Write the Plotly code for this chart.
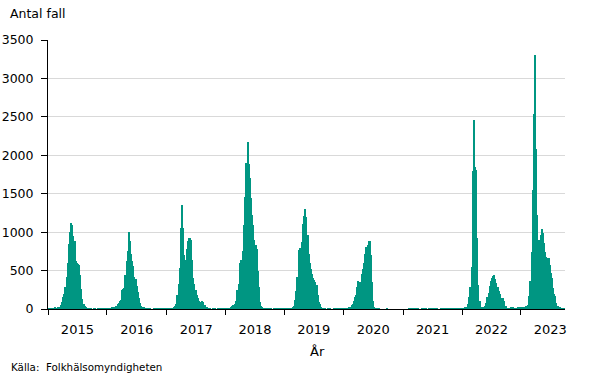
import plotly.graph_objects as go

# Weekly case counts per season (week 40 -> week 39)
season_labels = ["2015", "2016", "2017", "2018", "2019", "2020", "2021", "2022", "2023"]

s2015 = [10, 12, 8, 10, 12, 10, 14, 12, 15,
         20, 30, 50, 90, 150, 200, 280, 420, 600, 850, 1000, 1120, 1090, 950, 880, 620,
         600, 590, 570, 440, 265, 135, 70, 35, 20,
         12, 10, 8, 10, 6, 0, 5, 8, 0, 0, 6, 5, 8, 10, 12, 8, 10, 12]
s2016 = [10, 12, 10, 12, 14, 15,
         18, 25, 40, 60, 80, 100, 120, 250, 265, 270, 440, 620, 760, 1000, 880, 720, 620,
         560, 420, 390, 300, 220, 140, 80, 40, 25, 15,
         10, 8, 10, 8, 6, 8, 0, 0, 5, 8, 10, 8, 0, 5, 8, 6, 8, 10, 12, 10]
s2017 = [10, 10, 8, 10, 12, 10,
         20, 40, 70, 180, 330, 540, 1050, 1350, 1050, 700, 640, 780, 880, 920, 930, 900,
         640, 400, 330, 250, 180, 140, 110, 90, 85, 100, 90, 50, 25, 15,
         10, 8, 6, 0, 8, 10, 5, 0, 0, 6, 8, 10, 8, 10, 12, 10]
s2018 = [10, 10, 12, 10,
         20, 40, 50, 50, 60, 110, 250, 330, 600, 640, 620, 760, 1090, 1460, 1900, 2170,
         1890, 1700, 1450, 1220, 1090, 900, 830, 780, 500, 280, 90, 35, 15,
         10, 8, 10, 6, 0, 8, 5, 6, 0, 8, 10, 6, 8, 0, 10, 8, 10, 12, 10]
s2019 = [10, 8, 10, 12, 10, 8, 12, 15,
         45, 120, 230, 420, 770, 800, 680, 870, 1110, 1210, 1300, 1200, 960, 720, 600, 520,
         460, 400, 375, 350, 310, 180, 90, 70, 26, 12,
         8, 6, 0, 0, 5, 0, 10, 0, 0, 6, 0, 5, 8, 6, 8, 10, 8, 10]
s2020 = [8, 10, 6, 10, 12, 15,
         30, 50, 70, 100, 150, 180, 290, 360, 350, 340, 450, 520, 600, 720, 810, 830, 880,
         890, 700, 350, 110, 25,
         10, 6, 5, 5, 0, 0, 0, 0, 0, 0, 8, 0, 0, 0, 0, 0, 0, 0, 0, 0, 0, 0, 0, 0, 0]
s2021 = [0, 0, 0, 0, 0, 8, 8, 8, 8, 8, 8, 8, 8, 8, 0, 0, 8, 8, 8, 8, 8, 0, 8, 8, 8, 8,
         8, 8, 8, 8, 0, 0, 0, 6, 0, 8, 8, 8, 8, 8, 8, 8, 8, 8, 8, 8, 8, 8, 8, 8, 8, 8]
s2022 = [10, 12, 15, 20,
         30, 70, 160, 290, 550, 1790, 2460, 1850, 1810, 920, 310, 100, 30, 12, 15, 20, 40,
         74, 160, 213, 300, 370, 400, 430, 440, 390, 335, 290, 230, 200, 140, 117, 139, 100,
         40, 12,
         10, 8, 12, 15, 20, 30, 12, 10, 10, 15, 20, 25]
s2023 = [20, 25, 30, 30, 35, 35,
         56, 164, 360, 747, 1547, 2540, 3305, 2087, 1223, 790, 900, 963, 1041, 985, 855,
         747, 682, 670, 661, 574, 466, 402, 272, 200, 164, 78, 35,
         15, 15, 12, 12, 10, 12]

seasons = [s2015, s2016, s2017, s2018, s2019, s2020, s2021, s2022, s2023]
y_ticks = [0, 500, 1000, 1500, 2000, 2500, 3000, 3500]

values = [v for s in seasons for v in s]
weeks = list(range(len(values)))

starts, centers = [], []
pos = 0
for s in seasons:
    starts.append(pos - 0.5)
    full = max(len(s), 52)
    centers.append(pos - 0.5 + full / 2)
    pos += len(s)

FONT = "Verdana, DejaVu Sans, sans-serif"
TEAL = "#009682"

FIG_W, FIG_H = 605, 378
L, T = 48, 40
W, H = 517, 269
R = FIG_W - L - W
B = FIG_H - T - H

fig = go.Figure(go.Bar(x=weeks, y=values, marker=dict(color=TEAL, line=dict(width=0))))

fig.update_layout(
    width=FIG_W, height=FIG_H,
    margin=dict(l=L, r=R, t=T, b=B, autoexpand=False),
    paper_bgcolor="white", plot_bgcolor="white",
    bargap=0, showlegend=False,
    font=dict(family=FONT, size=12, color="black"),
)
fig.update_xaxes(
    automargin=False,
    range=[-0.5, len(values) - 0.5],
    tickmode="array", tickvals=centers, ticktext=season_labels,
    ticks="", showgrid=False, zeroline=False,
    showline=True, linecolor="black", linewidth=1,
    tickfont=dict(size=13), ticklabelstandoff=8,
    minor=dict(tickmode="array", tickvals=starts, ticks="outside", ticklen=5,
               tickcolor="black", tickwidth=1, showgrid=False),
)
fig.update_yaxes(
    automargin=False,
    range=[0, 3500], tickmode="array", tickvals=y_ticks,
    ticks="outside", ticklen=6, tickcolor="black", tickwidth=1,
    showline=True, linecolor="black", linewidth=1,
    showgrid=True, gridcolor="#d9d9d9", gridwidth=1, zeroline=False,
    tickfont=dict(size=12.5), ticklabelstandoff=5,
)

# page-pixel -> paper coordinates
def px(x): return (x - L) / W
def py(y): return (T + H - y) / H

fig.add_annotation(text="Antal fall", x=px(8), y=py(14), xref="paper", yref="paper",
                   xanchor="left", yanchor="middle", showarrow=False, font=dict(size=12.5))
fig.add_annotation(text="År", x=px(317), y=py(351), xref="paper", yref="paper",
                   xanchor="center", yanchor="middle", showarrow=False, font=dict(size=13))
fig.add_annotation(text="Källa:\u00a0 Folkhälsomyndigheten", x=px(9), y=py(367),
                   xref="paper", yref="paper", xanchor="left", yanchor="middle",
                   showarrow=False, font=dict(size=10.3))

fig.write_html("out.html", config={"displayModeBar": False},
               post_script="document.body.style.margin='0';document.body.style.overflow='hidden';")
